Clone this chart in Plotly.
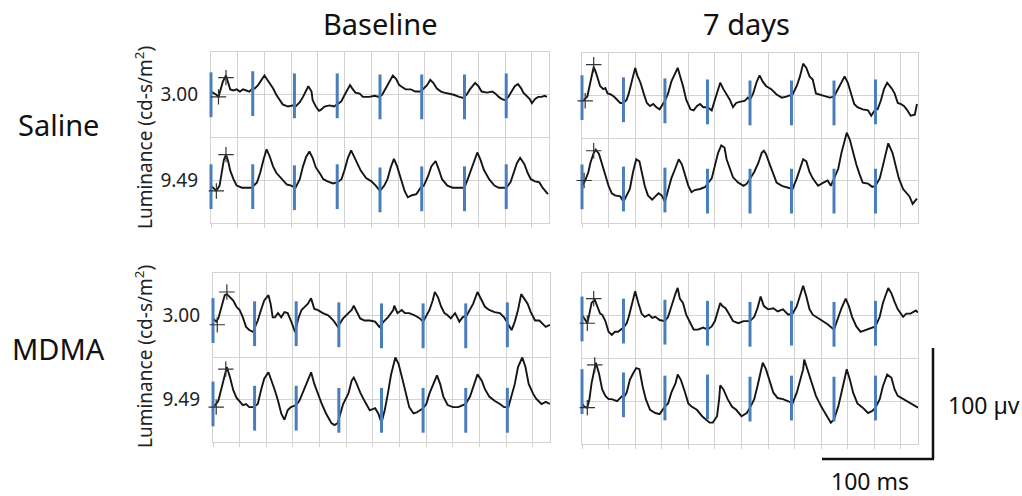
import plotly.graph_objects as go

# ---- flicker ERG traces: (time ms, amplitude µV) ----
sal_bl_300 = [(0,3),(2,2),(5,0),(7,-2),(9,5),(11,12),(14,18),(16,12),(18,5),(21,4),(24,5),(27,3),(30,5),(33,4),(36,3),(38,5),(41,6),(44,9),(47,14),(50,18),(52,15),(55,11),(58,6),(61,0),(64,-5),(67,-9),(72,-11),(77,-10),(78,-12),(81,-9),(83,-7),(86,-2),(89,5),(91,8),(94,3),(95,-5),(98,-11),(101,-15),(103,-14),(106,-11),(111,-10),(115,-11),(118,-9),(122,-6),(125,0),(128,6),(130,9),(132,6),(135,2),(139,1),(142,-2),(145,-2),(148,-2),(153,-1),(157,-2),(160,0),(163,5),(167,12),(170,18),(173,15),(176,9),(179,7),(182,5),(187,5),(191,3),(196,3),(199,6),(202,9),(205,14),(208,11),(211,6),(215,3),(218,2),(222,1),(227,0),(232,-2),(236,-3),(239,0),(242,5),(247,11),(250,8),(253,3),(258,2),(263,3),(266,1),(269,-2),(272,-4),(275,-5),(278,-2),(281,3),(284,8),(287,10),(290,6),(292,2),(295,-1),(298,-4),(300,-8),(303,-4),(306,-2),(309,-2),(312,-1),(314,-2)]
sal_bl_949 = [(0,-5),(2,-7),(5,-10),(8,-5),(10,7),(12,19),(14,24),(16,18),(18,9),(21,1),(24,-5),(29,-7),(33,-7),(38,-7),(43,-2),(46,7),(49,19),(52,29),(55,22),(58,13),(61,7),(66,1),(71,-4),(75,-5),(79,-7),(83,1),(86,13),(89,22),(92,27),(95,21),(98,12),(102,6),(105,1),(109,-1),(114,-3),(118,-2),(122,1),(125,10),(128,21),(131,28),(134,22),(137,15),(140,9),(145,2),(150,-1),(154,-5),(158,-10),(162,-5),(165,1),(168,12),(171,20),(174,13),(178,1),(181,-10),(184,-16),(188,-14),(192,-13),(196,-7),(199,-5),(203,4),(206,13),(210,18),(213,10),(216,1),(221,-5),(226,-7),(230,-7),(237,-7),(240,1),(243,10),(246,19),(249,26),(252,19),(255,10),(260,1),(265,-5),(269,-7),(276,-7),(280,-2),(283,7),(286,16),(289,21),(293,15),(296,7),(299,1),(303,-1),(307,-2),(310,-7),(315,-13)]
sal_7d_300 = [(0,-5),(2,-4),(5,-1),(7,9),(9,19),(11,27),(13,22),(15,15),(17,9),(20,6),(22,7),(24,2),(27,1),(30,-1),(33,-4),(36,-7),(39,-7),(42,-4),(44,2),(47,15),(50,26),(52,19),(55,12),(58,2),(61,-7),(64,-10),(67,-8),(70,-11),(73,-13),(78,-5),(81,2),(84,13),(88,22),(90,26),(92,19),(95,9),(98,-4),(102,-13),(105,-14),(108,-10),(111,-8),(114,-11),(118,-11),(122,-14),(125,-4),(128,6),(130,12),(133,6),(136,1),(139,-4),(142,-11),(145,-7),(148,-6),(153,-5),(156,-2),(158,-4),(161,2),(164,12),(167,19),(170,13),(173,9),(178,6),(183,1),(188,-2),(192,-1),(198,1),(202,9),(205,18),(208,30),(211,26),(214,18),(217,15),(220,2),(223,1),(228,-1),(233,-2),(237,-1),(241,7),(244,13),(247,18),(250,12),(253,1),(256,-8),(259,-11),(264,-13),(269,-14),(272,-19),(276,-13),(278,-13),(281,-5),(284,6),(287,12),(291,7),(294,2),(297,-7),(300,-8),(303,-10),(306,-14),(309,-19),(313,-18),(315,-8)]
sal_7d_949 = [(0,-5),(2,-2),(3,0),(6,8),(8,17),(11,26),(13,29),(16,25),(19,14),(22,5),(25,-5),(28,-12),(31,-14),(36,-15),(39,-20),(42,-14),(45,-8),(48,8),(51,20),(54,18),(56,8),(59,-5),(62,-14),(66,-18),(69,-15),(72,-12),(75,-14),(78,-20),(81,-9),(84,2),(88,12),(91,20),(94,15),(97,5),(100,-5),(103,-11),(106,-9),(111,-8),(116,-6),(118,-3),(122,2),(125,14),(128,26),(131,33),(134,31),(136,20),(139,11),(142,3),(147,-2),(152,-5),(155,-3),(158,2),(162,8),(166,17),(169,26),(171,28),(173,25),(177,14),(180,5),(183,-2),(188,-5),(192,-6),(198,-8),(202,2),(205,11),(208,20),(211,18),(214,8),(217,2),(222,-5),(227,-2),(231,0),(234,-5),(237,2),(241,11),(244,26),(247,38),(249,45),(252,38),(255,26),(258,15),(261,6),(264,-2),(269,-3),(273,-6),(276,-5),(280,2),(283,14),(286,26),(288,35),(292,26),(295,14),(298,2),(302,-8),(305,-12),(308,-15),(311,-22),(314,-18),(315,-17)]
mdma_bl_300 = [(0,-3),(3,-6),(5,-3),(8,8),(11,19),(13,20),(16,17),(19,14),(22,8),(25,5),(28,-2),(31,-11),(34,-14),(38,-16),(39,-12),(42,-5),(45,5),(48,14),(52,19),(54,11),(56,-2),(58,-2),(61,2),(64,-2),(67,3),(70,2),(73,-5),(77,-16),(80,-3),(83,5),(86,8),(89,11),(92,16),(95,6),(98,5),(103,2),(108,0),(113,-5),(117,-11),(122,-3),(127,2),(130,5),(132,9),(134,5),(138,-3),(142,-5),(147,-5),(152,-6),(156,-11),(160,-6),(164,-2),(169,5),(170,9),(173,2),(177,5),(180,2),(184,2),(189,0),(194,-3),(197,-6),(200,0),(203,5),(206,14),(208,22),(211,17),(214,8),(217,2),(220,0),(223,-3),(227,2),(231,-6),(234,-2),(238,0),(241,5),(244,11),(248,22),(252,14),(255,8),(259,5),(264,3),(269,2),(273,-2),(277,-9),(280,-14),(283,-6),(286,5),(289,20),(292,16),(295,11),(298,3),(302,-5),(306,-5),(309,-8),(312,-11),(316,-9)]
mdma_bl_949 = [(0,-7),(3,-4),(5,-1),(8,12),(11,24),(13,31),(16,21),(19,9),(22,2),(25,-1),(28,-5),(31,-4),(34,-7),(38,-7),(42,-4),(45,9),(48,20),(52,26),(55,18),(58,9),(61,-1),(64,-13),(67,-19),(70,-10),(73,-7),(78,-5),(81,-1),(84,6),(88,15),(92,26),(95,15),(98,6),(102,-4),(106,-13),(111,-22),(114,-24),(117,-22),(122,-4),(127,6),(130,18),(132,21),(134,17),(138,7),(142,-1),(147,-10),(152,-8),(155,-13),(158,-22),(161,-10),(164,6),(167,24),(171,40),(174,34),(178,18),(181,6),(184,-7),(188,-13),(191,-12),(197,-8),(200,-4),(203,6),(207,15),(210,23),(213,15),(216,3),(220,-5),(225,-7),(230,-7),(237,-4),(241,3),(244,12),(248,24),(252,18),(255,10),(259,3),(264,-1),(269,-4),(273,-7),(277,-7),(280,3),(283,15),(286,31),(290,40),(293,31),(296,15),(300,6),(303,1),(308,-4),(312,-2),(316,-4)]
mdma_7d_300 = [(0,1),(2,-2),(5,-7),(7,2),(9,12),(12,15),(14,10),(17,2),(19,1),(22,-5),(25,-15),(28,-18),(31,-15),(34,-15),(39,-11),(42,-7),(44,-1),(47,12),(50,23),(53,12),(56,2),(59,-1),(63,1),(66,-2),(69,-1),(73,-4),(78,-5),(81,-1),(84,9),(88,21),(90,26),(92,16),(95,12),(98,1),(102,-7),(105,-13),(109,-13),(114,-11),(118,-13),(122,-10),(125,-5),(128,6),(130,12),(132,9),(135,7),(138,2),(142,-5),(147,-7),(152,-5),(156,-5),(158,-5),(162,-1),(165,7),(168,18),(171,9),(175,6),(180,7),(184,4),(189,6),(194,1),(198,2),(202,9),(205,18),(208,28),(211,18),(214,6),(217,1),(222,-2),(227,-5),(231,-8),(237,-13),(240,-4),(244,7),(248,16),(251,9),(254,-1),(258,-10),(262,-15),(267,-13),(272,-11),(276,-10),(280,-1),(283,12),(288,26),(291,21),(294,13),(297,6),(302,-1),(305,2),(309,2),(314,5),(316,3)]
mdma_7d_949 = [(0,-2),(2,-5),(5,-6),(7,2),(9,17),(12,30),(13,36),(16,26),(19,11),(22,5),(25,2),(28,2),(33,0),(38,5),(39,3),(42,8),(45,20),(48,26),(51,31),(54,30),(57,14),(60,2),(64,-8),(69,-11),(73,-12),(78,-5),(81,-2),(84,8),(88,17),(90,25),(93,20),(97,8),(100,-2),(103,-5),(108,-8),(113,-14),(117,-17),(120,-20),(123,-20),(127,-14),(129,2),(130,15),(133,11),(137,2),(141,-5),(145,-8),(150,-14),(155,-11),(158,-6),(162,2),(165,14),(168,26),(170,36),(173,30),(177,17),(180,8),(184,3),(189,2),(194,0),(198,-2),(202,8),(205,20),(208,30),(209,39),(212,30),(216,17),(220,5),(225,-5),(230,-14),(234,-20),(237,-17),(241,-5),(244,8),(247,20),(249,30),(252,20),(255,8),(259,-2),(264,-6),(269,-11),(273,-9),(276,-6),(280,2),(283,14),(287,25),(291,22),(294,11),(297,5),(302,2),(306,0),(311,-3),(316,-6)]

# flash onset times (ms) and the level each stimulus bar is centred on (µV)
stim_t = [0, 39, 78, 118, 158, 197, 237, 276]
stim_sal_bl_300 = [0, 1, -1, -1, -2, -2, -2, -1]
stim_sal_bl_949 = [-6, -6, -7, -6, -9, -8, -8, -6]
stim_sal_7d_300 = [-2, -4, -5, -6, -7, -7, -7, -6]
stim_sal_7d_949 = [-6, -8, -9, -10, -10, -10, -10, -10]
stim_mdma_bl_300 = [-5, -8, -8, -9, -10, -10, -10, -9]
stim_mdma_bl_949 = [-4, -8, -8, -10, -10, -10, -10, -10]
stim_mdma_7d_300 = [-3, -5, -6, -7, -8, -7, -8, -7]
stim_mdma_7d_949 = [9, 6, 3, 4, 2, 3, 2, 3]

# trough / peak cursors placed on the first response
cur_sal_bl_300 = [(7, -2), (14, 16)]
cur_sal_bl_949 = [(5, -10), (14, 24)]
cur_sal_7d_300 = [(3, -5), (11, 29)]
cur_sal_7d_949 = [(2, 0), (11, 28)]
cur_mdma_bl_300 = [(4, -9), (13, 22)]
cur_mdma_bl_949 = [(3, -7), (12, 29)]
cur_mdma_7d_300 = [(5, -7), (11, 16)]
cur_mdma_7d_949 = [(5, -6), (12, 34)]

luminance_labels = ["3.00", "9.49"]
row_offset = [0, -80]          # vertical offset of each luminance row (µV)
col_titles = ["Baseline", "7 days"]
row_titles = ["Saline", "MDMA"]

FONT = "Noto Sans"
GRID = "#d2d2d2"
BLUE = "#4a7ebb"
INK = "#151515"

W, H = 1022, 496

panels = [
    ("x", "y", [sal_bl_300, sal_bl_949], [stim_sal_bl_300, stim_sal_bl_949], [cur_sal_bl_300, cur_sal_bl_949]),
    ("x2", "y2", [sal_7d_300, sal_7d_949], [stim_sal_7d_300, stim_sal_7d_949], [cur_sal_7d_300, cur_sal_7d_949]),
    ("x3", "y3", [mdma_bl_300, mdma_bl_949], [stim_mdma_bl_300, stim_mdma_bl_949], [cur_mdma_bl_300, cur_mdma_bl_949]),
    ("x4", "y4", [mdma_7d_300, mdma_7d_949], [stim_mdma_7d_300, stim_mdma_7d_949], [cur_mdma_7d_300, cur_mdma_7d_949]),
]

fig = go.Figure()
for xa, ya, traces, stims, curs in panels:
    for trace, stim, cur, off in zip(traces, stims, curs, row_offset):
        fig.add_trace(go.Scatter(
            x=[p[0] for p in trace], y=[p[1] + off for p in trace],
            mode="lines", line=dict(color=INK, width=1.9),
            xaxis=xa, yaxis=ya, hoverinfo="skip", showlegend=False))
        fig.add_trace(go.Scatter(
            x=stim_t, y=[c + off for c in stim], mode="markers",
            marker=dict(symbol="line-ns", size=32, line=dict(width=3, color=BLUE)),
            cliponaxis=False, xaxis=xa, yaxis=ya, hoverinfo="skip", showlegend=False))
        fig.add_trace(go.Scatter(
            x=[p[0] for p in cur], y=[p[1] + off for p in cur], mode="markers",
            marker=dict(symbol="cross-thin", size=11, line=dict(width=1.2, color="#333333")),
            cliponaxis=False, xaxis=xa, yaxis=ya, hoverinfo="skip", showlegend=False))


def px_x(a, b):
    return [a / W, b / W]


def px_y(top, bottom):
    return [1 - bottom / H, 1 - top / H]


def xaxis(domain, anchor):
    return dict(domain=domain, anchor=anchor, range=[0, 316], layer="below traces",
                tickmode="array", tickvals=list(range(0, 301, 25)),
                showticklabels=False, ticks="outside", ticklen=4,
                tickcolor=GRID, tickwidth=1.2,
                showgrid=True, gridcolor=GRID, gridwidth=1.2,
                showline=True, linecolor=GRID, linewidth=1.2, mirror=True,
                zeroline=False, fixedrange=True)


def yaxis(domain, anchor, labels):
    return dict(domain=domain, anchor=anchor, range=[-120, 40], layer="below traces",
                tickmode="array", tickvals=row_offset, ticktext=luminance_labels,
                showticklabels=labels, ticks="", ticklabelstandoff=8,
                tickfont=dict(family=FONT, size=19, color="#222222"),
                showgrid=True, gridcolor=GRID, gridwidth=1.2,
                minor=dict(tickvals=[40, -40, -120], showgrid=True,
                           gridcolor=GRID, gridwidth=1.2, ticks=""),
                showline=True, linecolor=GRID, linewidth=1.2, mirror=True,
                zeroline=False, fixedrange=True)


fig.update_layout(
    width=W, height=H, margin=dict(l=0, r=0, t=0, b=0),
    paper_bgcolor="white", plot_bgcolor="white", showlegend=False,
    xaxis=xaxis(px_x(211, 549), "y"),
    yaxis=yaxis(px_y(52, 223), "x", True),
    xaxis2=xaxis(px_x(582, 918), "y2"),
    yaxis2=yaxis(px_y(53, 223), "x2", False),
    xaxis3=xaxis(px_x(213, 550), "y3"),
    yaxis3=yaxis(px_y(273, 442), "x3", True),
    xaxis4=xaxis(px_x(582, 918), "y4"),
    yaxis4=yaxis(px_y(273, 444), "x4", False),
)

ann = []
big = dict(family=FONT, size=29, color="#111111")
for title, cx in zip(col_titles, [380, 746]):
    ann.append(dict(text=title, x=cx / W, y=1 - 24 / H, xref="paper", yref="paper",
                    xanchor="center", yanchor="middle", showarrow=False, font=big))
for title, cy in zip(row_titles, [125, 348]):
    ann.append(dict(text=title, x=58 / W, y=1 - cy / H, xref="paper", yref="paper",
                    xanchor="center", yanchor="middle", showarrow=False, font=big))
for cy in [138, 357]:
    ann.append(dict(text="Luminance (cd-s/m<sup>2</sup>)", x=144 / W, y=1 - cy / H,
                    xref="paper", yref="paper", xanchor="center", yanchor="middle",
                    textangle=-90, showarrow=False,
                    font=dict(family=FONT, size=19, color="#222222")))
ann.append(dict(text="100 µv", x=946 / W, y=1 - 405 / H, xref="paper", yref="paper",
                xanchor="left", yanchor="middle", showarrow=False,
                font=dict(family=FONT, size=23, color="#111111")))
ann.append(dict(text="100 ms", x=870 / W, y=1 - 481 / H, xref="paper", yref="paper",
                xanchor="center", yanchor="middle", showarrow=False,
                font=dict(family=FONT, size=23, color="#111111")))
fig.update_layout(annotations=ann)

# calibration bars
bar = dict(color="#111111", width=2.5)
fig.add_shape(type="line", xref="paper", yref="paper",
              x0=933 / W, x1=933 / W, y0=1 - 348 / H, y1=1 - 459 / H, line=bar)
fig.add_shape(type="line", xref="paper", yref="paper",
              x0=822 / W, x1=934 / W, y0=1 - 459 / H, y1=1 - 459 / H, line=bar)

fig.write_html("out.html")
